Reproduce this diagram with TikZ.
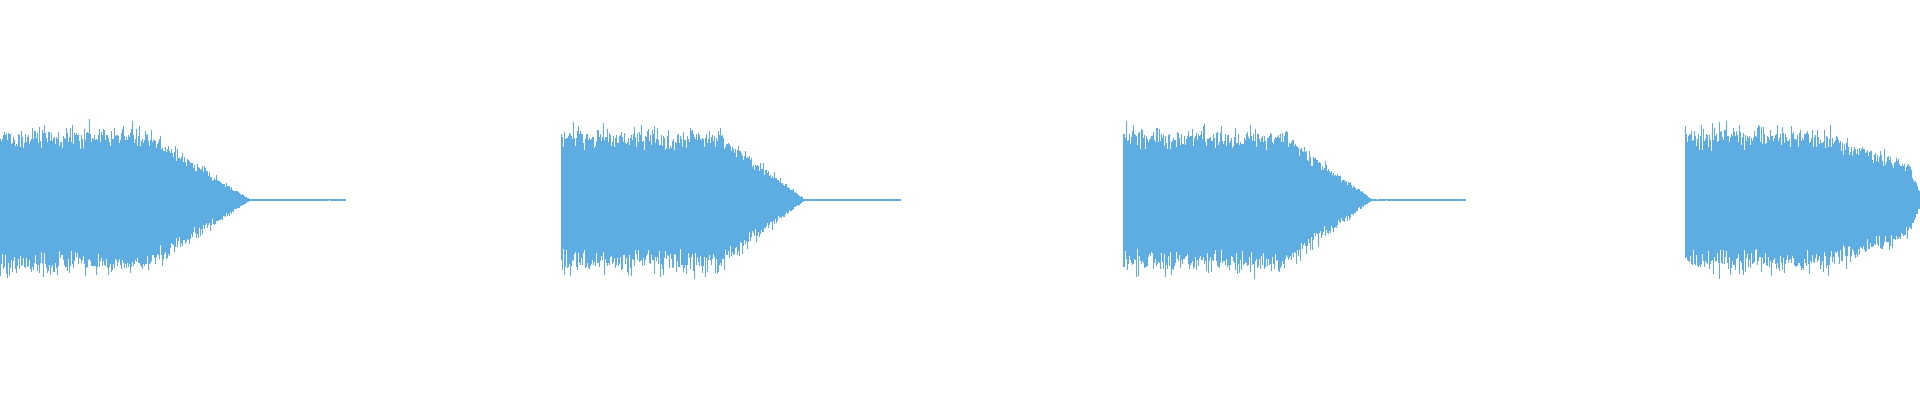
\documentclass[tikz,border=0pt]{standalone}
\definecolor{wav}{HTML}{5DADE2}
\newcommand\mywave[5]{% start, flat end, decay end, end, amplitude
  \pgfmathtruncatemacro\N{(#4-#1)/0.6}
  \foreach \i in {0,...,\N}{
    \pgfmathsetmacro\x{#1+0.6*\i}
    \pgfmathsetmacro\t{max(0,min(1,(\x-#2)/(#3-#2)))}
    \pgfmathsetmacro\tp{min(1,0.25+(#4-\x)/14)}
    \pgfmathsetmacro\env{(#5*(1-\t))*\tp+0.8}
    \pgfmathsetmacro\ra{rnd}\pgfmathsetmacro\rb{rnd}
    \pgfmathsetmacro\up{\env*(0.62+0.22*rnd+0.18*\ra*\ra*\ra*\ra)}
    \pgfmathsetmacro\dn{\env*(0.62+0.22*rnd+0.18*\rb*\rb*\rb*\rb)}
    \draw[wav,line width=0.8pt] (\x,200+\up) -- (\x,200-\dn);
  }
}
\begin{document}
\begin{tikzpicture}[x=1pt,y=1pt]
\useasboundingbox (0,0) rectangle (1920,400);
\fill[white] (0,0) rectangle (1920,400);
\pgfmathsetseed{7}
\mywave{0}{145}{250}{345}{80}
\mywave{561}{718}{805}{900}{78}
\mywave{1123}{1282}{1372}{1466}{78}
\mywave{1685}{1825}{2000}{1920}{78}
\end{tikzpicture}
\end{document}
